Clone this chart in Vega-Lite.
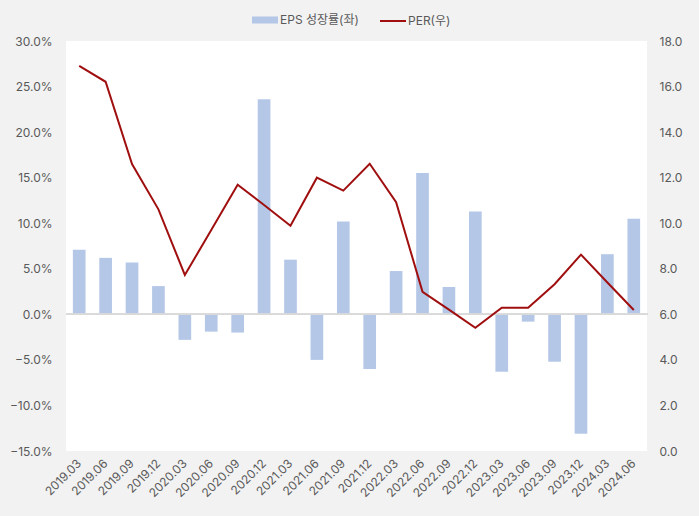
{
  "$schema": "https://vega.github.io/schema/vega-lite/v6.json",
  "width": 581,
  "height": 410,
  "autosize": "none",
  "padding": {"left": 66, "top": 41, "right": 52, "bottom": 65},
  "background": "#f2f2f2",
  "config": {
    "view": {"fill": "white", "stroke": null},
    "font": "Inter, Noto Sans CJK KR",
    "axis": {"labelColor": "#595959", "labelFont": "Inter, Noto Sans CJK KR", "labelFontSize": 12, "ticks": false, "domain": false, "grid": false, "title": null},
    "legend": {"labelColor": "#595959", "labelFont": "Inter, Noto Sans CJK KR", "labelFontSize": 12, "padding": 0, "title": null}
  },
  "data": {
    "values": [
      {"q": "2019.03", "eps": 0.071, "per": 16.91},
      {"q": "2019.06", "eps": 0.062, "per": 16.21},
      {"q": "2019.09", "eps": 0.057, "per": 12.6},
      {"q": "2019.12", "eps": 0.031, "per": 10.61},
      {"q": "2020.03", "eps": -0.028, "per": 7.73},
      {"q": "2020.06", "eps": -0.019, "per": 9.7},
      {"q": "2020.09", "eps": -0.020, "per": 11.69},
      {"q": "2020.12", "eps": 0.236, "per": 10.8},
      {"q": "2021.03", "eps": 0.060, "per": 9.89},
      {"q": "2021.06", "eps": -0.050, "per": 12.0},
      {"q": "2021.09", "eps": 0.102, "per": 11.43},
      {"q": "2021.12", "eps": -0.060, "per": 12.61},
      {"q": "2022.03", "eps": 0.0475, "per": 10.92},
      {"q": "2022.06", "eps": 0.155, "per": 6.99},
      {"q": "2022.09", "eps": 0.030, "per": 6.21},
      {"q": "2022.12", "eps": 0.113, "per": 5.41},
      {"q": "2023.03", "eps": -0.063, "per": 6.29},
      {"q": "2023.06", "eps": -0.008, "per": 6.29},
      {"q": "2023.09", "eps": -0.052, "per": 7.32},
      {"q": "2023.12", "eps": -0.131, "per": 8.62},
      {"q": "2024.03", "eps": 0.066, "per": 7.4},
      {"q": "2024.06", "eps": 0.105, "per": 6.19}
    ]
  },
  "encoding": {
    "x": {
      "field": "q", "type": "ordinal", "sort": null,
      "scale": {"paddingInner": 0.52, "paddingOuter": 0.26},
      "axis": {"labelAngle": -45, "labelAlign": "right", "labelBaseline": "middle", "labelPadding": 10}
    }
  },
  "layer": [
    {
      "mark": {"type": "bar"},
      "encoding": {
        "y": {
          "field": "eps", "type": "quantitative",
          "scale": {"domain": [-0.15, 0.3], "nice": false, "zero": false},
          "axis": {"orient": "left", "format": ".1%", "values": [-0.15, -0.1, -0.05, 0, 0.05, 0.1, 0.15, 0.2, 0.25, 0.3], "labelPadding": 14}
        },
        "fill": {
          "datum": "EPS 성장률(좌)",
          "scale": {"range": ["#b4c7e7"]},
          "legend": {"orient": "none", "legendX": 186, "legendY": -34, "symbolType": "M-1,-0.27H1V0.27H-1Z", "symbolSize": 676, "symbolStrokeWidth": 0, "labelOffset": 2}
        }
      }
    },
    {
      "mark": {"type": "rule", "color": "#d9d9d9", "strokeWidth": 1},
      "encoding": {
        "y": {"datum": 0, "type": "quantitative", "scale": {"domain": [-0.15, 0.3], "nice": false, "zero": false}, "axis": null},
        "x": {"value": 0},
        "x2": {"value": 582}
      }
    },
    {
      "mark": {"type": "line", "strokeWidth": 2},
      "encoding": {
        "y": {
          "field": "per", "type": "quantitative",
          "scale": {"domain": [0, 18], "nice": false},
          "axis": {"orient": "right", "format": ".1f", "values": [0, 2, 4, 6, 8, 10, 12, 14, 16, 18], "labelPadding": 12}
        },
        "stroke": {
          "datum": "PER(우)",
          "scale": {"range": ["#a00f0f"]},
          "legend": {"orient": "none", "legendX": 313, "legendY": -34, "symbolType": "M-1,0H1", "symbolSize": 676, "symbolStrokeWidth": 2, "labelOffset": 1}
        }
      }
    }
  ],
  "resolve": {"scale": {"y": "independent"}}
}
